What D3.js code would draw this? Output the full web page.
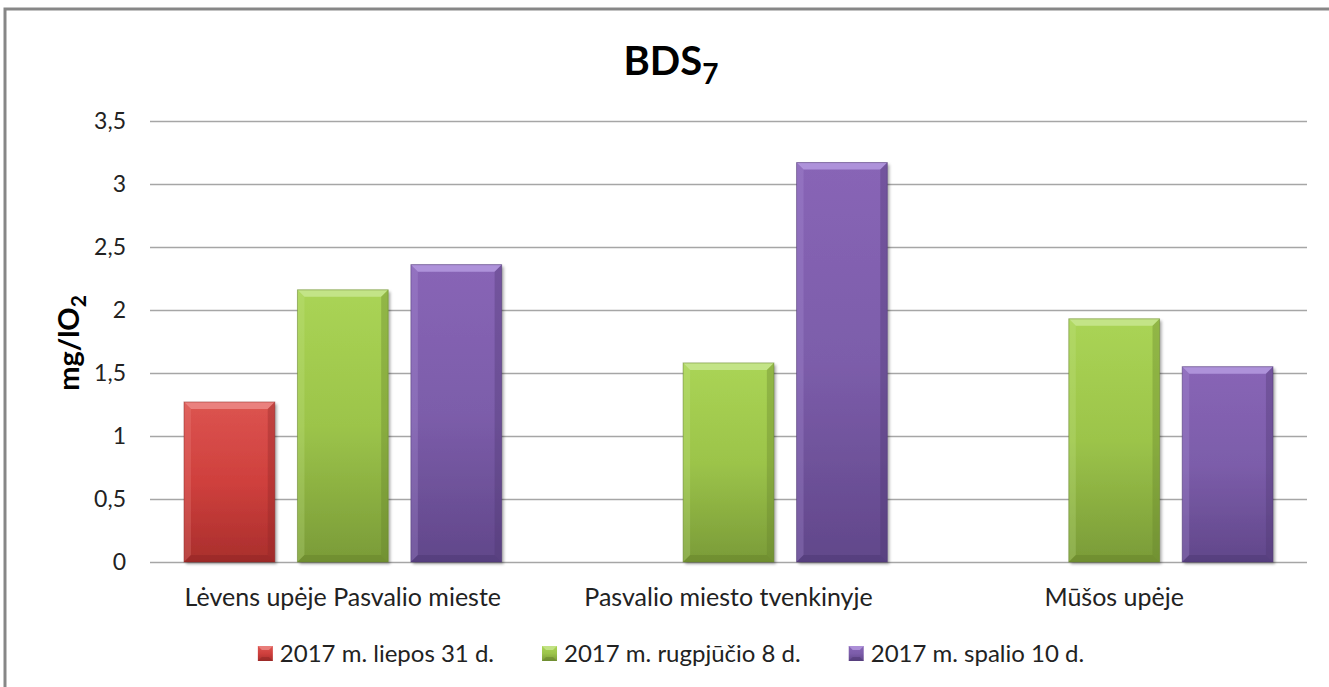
<!DOCTYPE html>
<html>
<head>
<meta charset="utf-8">
<script src="https://cdn.jsdelivr.net/npm/d3@7"></script>
<style>
  body { margin: 0; background: #fff; }
  svg { display: block; font-family: Lato, "Open Sans", sans-serif; }
</style>
</head>
<body>
<script>
// duomenys
const categories = ["Lėvens upėje Pasvalio mieste", "Pasvalio miesto tvenkinyje", "Mūšos upėje"];
const series = ["2017 m. liepos 31 d.", "2017 m. rugpjūčio 8 d.", "2017 m. spalio 10 d."];
const liepos = [1.27, null, null];
const rugpjucio = [2.16, 1.58, 1.93];
const spalio = [2.36, 3.17, 1.55];
const yTicks = [0, 0.5, 1, 1.5, 2, 2.5, 3, 3.5];

const values = [liepos, rugpjucio, spalio];
const colors = [
  {top: "#dc5450", mid: "#cf403d", bot: "#a92e2c", light: "#ec8a86", dark: "#8e2624"},
  {top: "#aad455", mid: "#9cc44a", bot: "#7a9b38", light: "#c8e690", dark: "#63802a"},
  {top: "#8865b6", mid: "#7c5daa", bot: "#61478a", light: "#b59ae0", dark: "#4c3670"}
];

const width = 1329, height = 687;
const svg = d3.select("body").append("svg")
    .attr("width", width)
    .attr("height", height);

const defs = svg.append("defs");
colors.forEach((c, i) => {
  const g = defs.append("linearGradient").attr("id", "grad" + i)
      .attr("x1", 0).attr("y1", 0).attr("x2", 0).attr("y2", 1);
  g.append("stop").attr("offset", 0).attr("stop-color", c.top);
  g.append("stop").attr("offset", 0.5).attr("stop-color", c.mid);
  g.append("stop").attr("offset", 1).attr("stop-color", c.bot);
});
const sh = defs.append("filter").attr("id", "shadow")
    .attr("x", "-10%").attr("y", "-10%").attr("width", "130%").attr("height", "130%");
sh.append("feDropShadow").attr("dx", 2).attr("dy", 2).attr("stdDeviation", 1.5)
    .attr("flood-color", "#000").attr("flood-opacity", 0.35);

// rėmelis
svg.append("rect")
    .attr("x", 5).attr("y", 9)
    .attr("width", width + 20).attr("height", height + 20)
    .attr("fill", "none")
    .attr("stroke", "#878787")
    .attr("stroke-width", 3);

const x0 = d3.scaleBand().domain(categories).range([150, 1307]);
const x1 = d3.scaleBand().domain(series).range([0, x0.bandwidth()])
    .paddingInner(0.2).paddingOuter(0.3);
const y = d3.scaleLinear().domain([0, 3.5]).range([562, 121]);

// tinklelis
svg.append("g")
    .selectAll("line")
    .data(yTicks)
    .join("line")
      .attr("x1", 150).attr("x2", 1307)
      .attr("y1", d => Math.round(y(d)) + 0.5)
      .attr("y2", d => Math.round(y(d)) + 0.5)
      .attr("stroke", "#a6a6a6")
      .attr("stroke-width", 1.5);

// y ašis
const yAxis = svg.append("g")
    .attr("transform", "translate(150,0)")
    .call(d3.axisLeft(y).tickValues(yTicks).tickSize(0).tickPadding(24)
      .tickFormat(d => String(d).replace(".", ",")));
yAxis.select(".domain").remove();
yAxis.selectAll("text")
    .attr("font-family", "Lato, sans-serif")
    .attr("font-size", 23)
    .attr("fill", "#222");

// stulpeliai
const b = 7;
const bars = [];
series.forEach((s, i) => {
  categories.forEach((c, j) => {
    const v = values[i][j];
    if (v == null) return;
    bars.push({s, i, c, v});
  });
});

const bar = svg.append("g")
  .selectAll("g")
  .data(bars)
  .join("g")
    .attr("transform", d => `translate(${x0(d.c) + x1(d.s)},${y(d.v)})`);

bar.each(function(d) {
  const g = d3.select(this);
  const w = x1.bandwidth();
  const h = y(0) - y(d.v);
  const c = colors[d.i];
  g.append("rect")
      .attr("width", w).attr("height", h)
      .attr("fill", `url(#grad${d.i})`)
      .attr("filter", "url(#shadow)");
  // nuožulnos
  g.append("path")
      .attr("d", `M0,0H${w}L${w - b},${b}H${b}Z`)
      .attr("fill", c.light).attr("opacity", 0.85);
  g.append("path")
      .attr("d", `M0,0L${b},${b}V${h - b}L0,${h}Z`)
      .attr("fill", c.light).attr("opacity", 0.25);
  g.append("path")
      .attr("d", `M${w},0L${w - b},${b}V${h - b}L${w},${h}Z`)
      .attr("fill", c.dark).attr("opacity", 0.35);
  g.append("path")
      .attr("d", `M0,${h}L${b},${h - b}H${w - b}L${w},${h}Z`)
      .attr("fill", c.dark).attr("opacity", 0.45);
  g.append("rect")
      .attr("width", w).attr("height", h)
      .attr("fill", "none")
      .attr("stroke", c.dark).attr("stroke-opacity", 0.5).attr("stroke-width", 1);
});

// x ašies pavadinimai
svg.append("g")
  .selectAll("text")
  .data(categories)
  .join("text")
    .attr("x", d => x0(d) + x0.bandwidth() / 2)
    .attr("y", 606)
    .attr("text-anchor", "middle")
    .attr("font-size", 25)
    .attr("fill", "#222")
    .text(d => d);

// pavadinimas
const title = svg.append("text")
    .attr("x", 671).attr("y", 75)
    .attr("text-anchor", "middle")
    .attr("font-size", 40)
    .attr("font-weight", "bold")
    .attr("fill", "#000");
title.append("tspan").text("BDS");
title.append("tspan").attr("font-size", 28).attr("dy", 9).text("7");

// y ašies pavadinimas
const yl = svg.append("text")
    .attr("transform", "translate(79,343) rotate(-90)")
    .attr("text-anchor", "middle")
    .attr("font-size", 29)
    .attr("font-weight", "bold")
    .attr("fill", "#000");
yl.append("tspan").text("mg/lO");
yl.append("tspan").attr("font-size", 21).attr("dy", 7).text("2");

// legenda
const legend = svg.append("g");
const items = legend.selectAll("g")
  .data(series)
  .join("g");
items.append("text")
    .attr("x", 22).attr("y", 662)
    .attr("font-size", 24)
    .attr("fill", "#222")
    .text(d => d);
const ms = 15, mb = 4;
items.each(function(d, i) {
  const g = d3.select(this);
  const c = colors[i];
  g.append("rect").attr("x", 0).attr("y", 646).attr("width", ms).attr("height", ms)
      .attr("fill", `url(#grad${i})`);
  g.append("path")
      .attr("d", `M0,646H${ms}L${ms - mb},${646 + mb}H${mb}Z`)
      .attr("fill", c.light).attr("opacity", 0.8);
  g.append("path")
      .attr("d", `M0,${646 + ms}L${mb},${646 + ms - mb}H${ms - mb}L${ms},${646 + ms}Z`)
      .attr("fill", c.dark).attr("opacity", 0.5);
});
const widths = [];
items.select("text").each(function() { widths.push(22 + this.getComputedTextLength()); });
const gap = 48;
const total = d3.sum(widths) + gap * (widths.length - 1);
let cx = 671 - total / 2;
items.attr("transform", (d, i) => {
  const t = `translate(${cx},0)`;
  cx += widths[i] + gap;
  return t;
});
</script>
</body>
</html>
